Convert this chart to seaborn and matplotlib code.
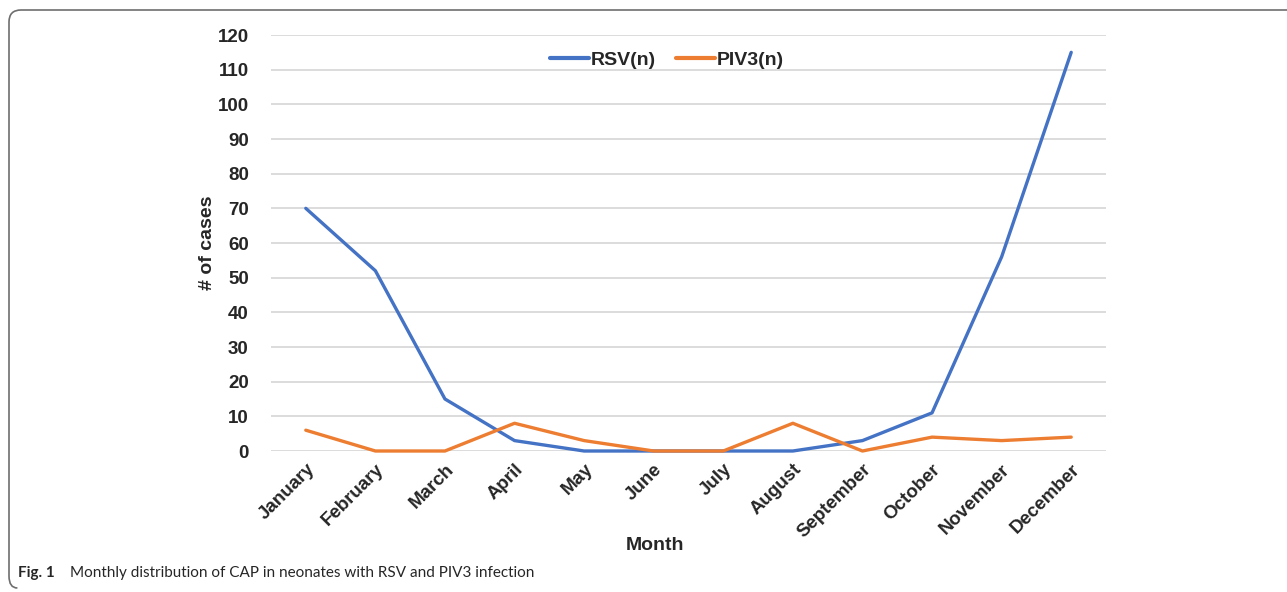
import matplotlib
matplotlib.use("Agg")
import matplotlib.pyplot as plt
import seaborn as sns
import pandas as pd
from matplotlib.path import Path
from matplotlib.patches import PathPatch

months = ["January", "February", "March", "April", "May", "June", "July",
          "August", "September", "October", "November", "December"]
rsv = [70, 52, 15, 3, 0, 0, 0, 0, 3, 11, 56, 115]
piv3 = [6, 0, 0, 8, 3, 0, 0, 8, 0, 4, 3, 4]
series_names = ["RSV(n)", "PIV3(n)"]
colors = ["#4472C4", "#ED7D31"]
yticks = list(range(0, 121, 10))

df = pd.DataFrame({
    "Month": months * 2,
    "idx": list(range(len(months))) * 2,
    "cases": rsv + piv3,
    "series": [series_names[0]] * len(months) + [series_names[1]] * len(months),
})

sns.set_theme(style="white")
plt.rcParams["font.family"] = ["Liberation Sans", "DejaVu Sans"]

W, H = 1287, 592
fig = plt.figure(figsize=(W / 100, H / 100), dpi=100)
ax = fig.add_axes([271 / W, 1 - 451 / H, (1106 - 271) / W, (451 - 35) / H])

sns.lineplot(data=df, x="idx", y="cases", hue="series", palette=colors,
             linewidth=2.4, ax=ax, sort=False, legend=True)
for ln in ax.get_lines():
    ln.set_clip_on(False)
    ln.set_zorder(3)

ax.set_xlim(-0.5, len(months) - 0.5)
ax.set_ylim(0, 120)
ax.set_yticks(yticks)
ax.set_yticklabels([str(v) for v in yticks], fontsize=13.5, fontweight="bold")
ax.set_xticks(range(len(months)))
ax.set_xticklabels(months, rotation=45, ha="right", rotation_mode="anchor",
                   fontsize=13.5, fontweight="bold")
ax.tick_params(axis="x", length=0, pad=7)
ax.tick_params(axis="y", length=0, pad=16)
ax.grid(axis="y", color="#D9D9D9", linewidth=1.3)
ax.set_axisbelow(True)
for s in ax.spines.values():
    s.set_visible(False)

ax.set_xlabel("Month", fontsize=14, fontweight="bold")
ax.xaxis.set_label_coords((655 - 271) / (1106 - 271), (451 - 545) / (451 - 35))
ax.xaxis.label.set_va("center")
ax.set_ylabel("# of cases", fontsize=14, fontweight="bold")
ax.yaxis.set_label_coords((207 - 271) / (1106 - 271), (451 - 243) / (451 - 35))
ax.yaxis.label.set_va("center")

handles, labels = ax.get_legend_handles_labels()
leg = ax.legend(handles, labels, loc="center", bbox_to_anchor=(667 / W, 1 - 60 / H),
                bbox_transform=fig.transFigure, ncol=2, frameon=False,
                prop={"weight": "bold", "size": 14}, handlelength=2.0,
                handletextpad=0.12, columnspacing=1.0)
for lh in leg.get_lines():
    lh.set_linewidth(3)

# caption
fig.text(18 / W, 1 - 573 / H, "Fig. 1", fontsize=11, fontweight="bold",
         family="Lato", va="center", ha="left")
fig.text(70 / W, 1 - 573 / H, "Monthly distribution of CAP in neonates with RSV and PIV3 infection",
         fontsize=11, family="Lato", va="center", ha="left")

# border (top and left edges with rounded corners)
r = 12
x0, y0 = 9, 10
y1 = 588
verts = [
    (W, y0), (x0 + r, y0), (x0, y0), (x0, y0 + r),
    (x0, y1 - r), (x0, y1), (x0 + r * 0.7, y1),
]
codes = [Path.MOVETO, Path.LINETO, Path.CURVE3, Path.CURVE3,
         Path.LINETO, Path.CURVE3, Path.CURVE3]
verts_f = [(vx / W, 1 - vy / H) for vx, vy in verts]
patch = PathPatch(Path(verts_f, codes), transform=fig.transFigure,
                  facecolor="none", edgecolor="#6E6E6E", linewidth=1.2)
fig.patches.append(patch)

fig.savefig("out.png", dpi=100)
